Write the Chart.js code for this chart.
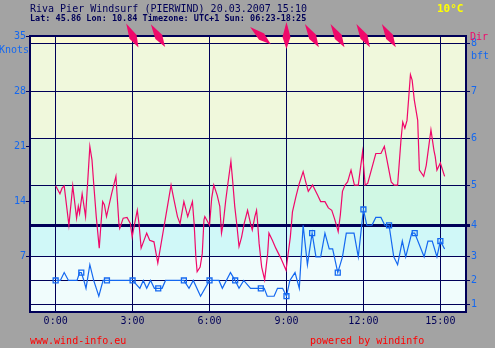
<!DOCTYPE html>
<html>
<head>
<meta charset="utf-8">
<script src="https://cdn.jsdelivr.net/npm/chart.js@4/dist/chart.umd.min.js"></script>
<style>
html, body { margin: 0; padding: 0; background: #a3a3a3; }
</style>
</head>
<body>
<canvas id="windChart" width="495" height="348"></canvas>
<script>
// gusts (red) - minutes since 0:00 / knots
const gustTimes = [0,10,15,20,31,40,49,53,56,62,70,80,85,89,95,102,105,110,114,119,131,141,148,150,158,167,175,179,184,191,195,200,213,220,230,239,270,277,285,291,300,309,320,324,328,331,338,343,347,349,355,360,365,370,378,384,388,392,398,403,410,414,419,424,429,435,441,449,456,460,466,470,472,476,482,489,496,499,507,515,527,539,542,549,554,562,570,579,585,591,601,613,620,630,638,646,652,658,661,666,671,677,683,691,699,708,718,724,730,749,761,769,785,792,800,808,812,817,822,830,834,839,847,851,861,867,878,885,888,892,900,910]
const gustKnots = [16.0,15.0,15.7,16.0,11.0,16.0,11.9,13.4,12.5,15.0,12.1,21.0,19.3,16.3,12.1,8.1,10.4,14.0,13.6,12.1,15.0,17.2,11.2,10.6,11.9,12.0,11.2,9.5,11.0,12.9,11.2,8.1,10.0,9.1,8.9,6.2,16.1,14.2,12.1,11.2,14.0,12.1,14.0,11.2,7.0,5.1,5.7,7.4,11.7,12.1,11.5,11.0,14.4,16.1,14.8,13.4,10.0,11.2,14.2,16.3,19.1,16.7,13.4,11.0,8.3,9.5,11.2,12.9,11.2,10.4,12.1,12.9,11.7,8.7,5.7,4.1,7.4,10.0,9.1,8.1,6.8,5.3,6.6,9.5,12.7,14.6,16.3,17.8,16.5,15.3,16.1,14.8,14.0,14.0,13.2,12.9,11.9,10.8,10.2,12.3,15.3,16.1,16.5,18.0,16.1,16.1,20.3,16.1,16.3,20.1,20.1,21.0,16.5,16.1,16.1,21.9,24.1,23.3,24.3,30.1,29.4,26.9,24.3,18.0,17.2,18.6,23.1,20.5,19.7,18.0,18.9,17.2]

// average wind (blue)
const avgTimes = [0,11,20,30,50,56,60,66,71,80,89,101,111,120,180,197,205,213,222,231,240,249,257,300,312,322,339,360,382,390,409,420,429,440,456,480,488,495,511,519,531,540,548,560,570,579,589,600,609,620,630,640,648,660,671,680,691,698,708,720,728,740,749,761,770,780,791,800,811,819,833,840,862,871,881,892,900,910]
const avgKnots = [4,4,5,4,4,5,5,4,3,6,4,2,4,4,4,3,4,3,4,3,3,3,4,4,3,4,2,4,4,3,5,4,3,4,3,3,3,2,2,3,3,2,4,5,3,11,6,10,7,7,10,8,8,5,7,10,10,10,7,13,11,11,12,12,11,11,7,6,9,7,10,10,7,9,9,7,9,8]

// wind direction arrows (degrees, from)
const dirTimes = [180,240,480,540,600,660,720,780]
const dirDeg = [333,328,310,0,329,329,330,329]

const hourTicks = [0,180,360,540,720,900]
const knotTicks = [7,14,21,28,35]
const bftKnots = [1,4,7,11,16,22,28,34]
const bftLabels = ['1','2','3','4','5','6','7','8']

const bandEdges = [0,7,11,16,22,34,35]
const bandColors = ['#f0fcfc','#d0f8f8','#d0f8e4','#dcf8e0','#f0f8dc','#fafad2']

const navy = '#000058'
const blue = '#1468f0'
const pink = '#f0086a'
const mono = '"DejaVu Sans Mono", monospace'

const windPlugin = {
    id: 'windPlugin',
    beforeDraw(chart) {
        const c = chart.ctx
        const a = chart.chartArea
        const y = chart.scales.y
        c.save()
        c.fillStyle = '#a3a3a3'
        c.fillRect(0, 0, chart.width, chart.height)
        for (let i = 0; i < bandColors.length; i++) {
            const y1 = y.getPixelForValue(bandEdges[i])
            const y2 = y.getPixelForValue(bandEdges[i + 1])
            c.fillStyle = bandColors[i]
            c.fillRect(a.left, y2, a.right - a.left, y1 - y2)
        }
        c.restore()
    },
    afterDraw(chart) {
        const c = chart.ctx
        const a = chart.chartArea
        const x = chart.scales.x
        c.save()
        c.strokeStyle = navy
        c.lineWidth = 2
        c.strokeRect(a.left, a.top, a.right - a.left, a.bottom - a.top)

        c.textBaseline = 'alphabetic'
        c.fillStyle = navy
        c.font = '10px ' + mono
        c.textAlign = 'left'
        c.fillText('Riva Pier Windsurf (PIERWIND) 20.03.2007 15:10', 30, 12)
        c.font = 'bold 8.5px ' + mono
        c.fillText('Lat: 45.86 Lon: 10.84 Timezone: UTC+1 Sun: 06:23-18:25', 30, 21)
        c.fillStyle = '#ffff00'
        c.font = 'bold 11px ' + mono
        c.fillText('10°C', 437, 12)

        c.font = '10px ' + mono
        c.fillStyle = blue
        c.textAlign = 'right'
        c.fillText('Knots', 29, 53)
        c.textAlign = 'left'
        c.fillText('bft', 471, 59)
        c.fillStyle = pink
        c.fillText('Dir', 470, 40)

        c.fillStyle = '#ff0000'
        c.fillText('www.wind-info.eu', 30, 344)
        c.fillText('powered by windinfo', 310, 344)

        // direction arrows
        c.fillStyle = pink
        dirTimes.forEach((t, i) => {
            const px = x.getPixelForValue(t)
            const rad = dirDeg[i] * Math.PI / 180
            c.save()
            c.translate(px, 36)
            c.rotate(rad)
            c.beginPath()
            c.moveTo(0, -14)
            c.lineTo(4, 1)
            c.lineTo(0, 13)
            c.lineTo(-4, 1)
            c.closePath()
            c.fill()
            c.restore()
        })
        c.restore()
    }
}

let ctx = document.querySelector('#windChart')

let graphData = {
    type: 'line',
    data: {
        datasets: [{
            label: 'Gust',
            data: gustTimes.map((t, i) => ({x: t, y: gustKnots[i]})),
            borderColor: pink,
            borderWidth: 1.2,
            pointRadius: 0,
            tension: 0,
            yAxisID: 'y'
        }, {
            label: 'Average',
            data: avgTimes.map((t, i) => ({x: t, y: avgKnots[i]})),
            borderColor: blue,
            borderWidth: 1.2,
            pointStyle: 'rect',
            pointRadius: c => (c.raw && c.raw.x % 60 === 0) ? 3.5 : 0,
            pointBorderColor: blue,
            pointBackgroundColor: 'rgba(0,0,0,0)',
            pointBorderWidth: 1.3,
            tension: 0,
            yAxisID: 'y'
        }]
    },
    options: {
        responsive: false,
        animation: false,
        devicePixelRatio: 1,
        layout: { padding: { top: 36, left: 0, right: 0, bottom: 0 }, autoPadding: false },
        plugins: { legend: { display: false }, tooltip: { enabled: false } },
        scales: {
            x: {
                type: 'linear',
                min: -60,
                max: 960,
                afterBuildTicks: s => { s.ticks = hourTicks.map(v => ({value: v})) },
                afterFit: s => { s.height = 36 },
                grid: { color: navy, lineWidth: 1, drawTicks: false },
                border: { display: false },
                ticks: {
                    color: navy,
                    font: { family: mono, size: 10 },
                    padding: 3,
                    autoSkip: false,
                    maxRotation: 0,
                    callback: v => (v / 60) + ':00'
                }
            },
            y: {
                position: 'left',
                min: 0,
                max: 35,
                afterBuildTicks: s => { s.ticks = knotTicks.map(v => ({value: v})) },
                afterFit: s => { s.width = 30 },
                grid: { drawOnChartArea: false, color: navy, tickLength: 4 },
                border: { display: false },
                ticks: { color: blue, font: { family: mono, size: 10 }, padding: 0, autoSkip: false }
            },
            bft: {
                position: 'right',
                min: 0,
                max: 35,
                afterBuildTicks: s => { s.ticks = bftKnots.map(v => ({value: v})) },
                afterFit: s => { s.width = 29 },
                grid: {
                    color: navy,
                    tickLength: 4,
                    lineWidth: c => (c.tick && c.tick.value === 11) ? 3 : 1
                },
                border: { display: false },
                ticks: {
                    color: blue,
                    font: { family: mono, size: 10 },
                    padding: 1,
                    autoSkip: false,
                    callback: v => bftLabels[bftKnots.indexOf(v)]
                }
            }
        }
    },
    plugins: [windPlugin]
}

let myChart = new Chart(ctx, graphData)
</script>
</body>
</html>
